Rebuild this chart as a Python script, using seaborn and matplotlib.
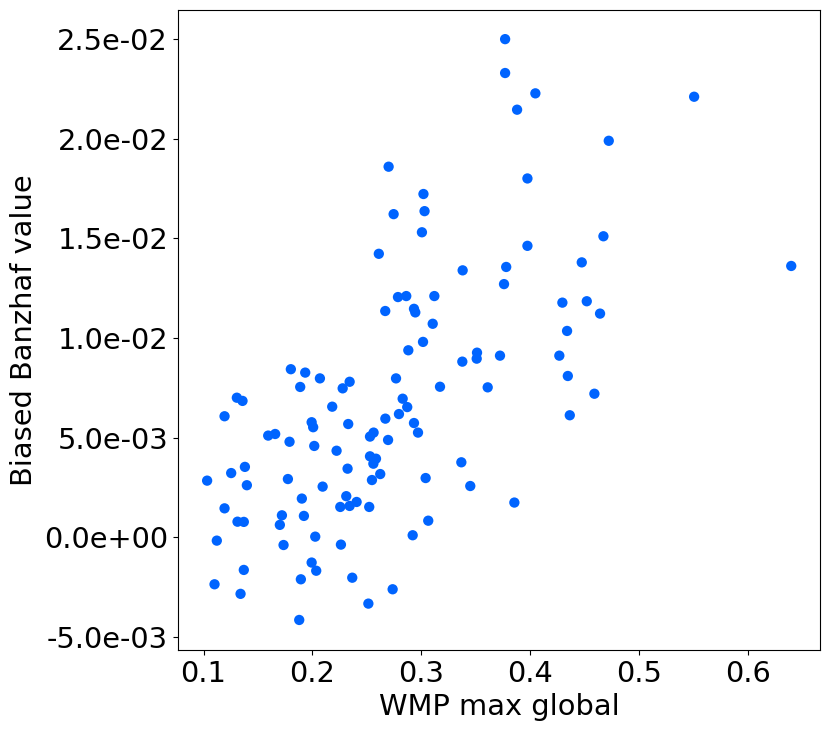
import numpy as np
import pandas as pd
import matplotlib
matplotlib.use("Agg")
import matplotlib.pyplot as plt
import seaborn as sns
from matplotlib.ticker import FormatStrFormatter

# values
wmp_max_global = [
    0.377, 0.377, 0.270, 0.302, 0.2746, 0.303, 0.3006, 0.261, 0.338, 0.378,
    0.376, 0.2786, 0.2862, 0.312, 0.2669, 0.2933, 0.2945, 0.3105, 0.4048, 0.388,
    0.5506, 0.4722, 0.3975, 0.3975, 0.4673, 0.4474, 0.6398, 0.4296, 0.452, 0.4642,
    0.4339, 0.3016, 0.2881, 0.1802, 0.1934, 0.2069, 0.1888, 0.2342, 0.2278, 0.2768,
    0.3377, 0.3512, 0.3509, 0.3723, 0.3172, 0.361, 0.1306, 0.1358, 0.1193, 0.2182,
    0.2829, 0.2871, 0.2795, 0.1993, 0.2007, 0.2329, 0.267, 0.2933, 0.297, 0.1594,
    0.1658, 0.179, 0.2017, 0.2222, 0.2529, 0.2562, 0.2695, 0.2529, 0.2584, 0.256,
    0.2323, 0.2547, 0.2623, 0.138, 0.1254, 0.1033, 0.1398, 0.1775, 0.2094, 0.1903,
    0.2311, 0.2256, 0.2342, 0.2406, 0.2522, 0.1193, 0.1312, 0.137, 0.172, 0.1701,
    0.1922, 0.1122, 0.1735, 0.2026, 0.2262, 0.1993, 0.2035, 0.137, 0.1101, 0.134,
    0.1894, 0.2366, 0.2737, 0.2514, 0.1879, 0.304, 0.3368, 0.345, 0.3064, 0.2921,
    0.4268, 0.4346, 0.459, 0.4364, 0.3855,
]
biased_banzhaf = [
    0.0250, 0.0233, 0.01860, 0.01723, 0.01622, 0.01637, 0.01531, 0.01423, 0.01340, 0.01357,
    0.01271, 0.01206, 0.01211, 0.01211, 0.01136, 0.01147, 0.01129, 0.01072, 0.02228, 0.02146,
    0.02211, 0.01990, 0.01801, 0.01463, 0.01511, 0.01380, 0.01362, 0.01178, 0.01185, 0.01123,
    0.01036, 0.00981, 0.00939, 0.00844, 0.00827, 0.00798, 0.00755, 0.00781, 0.00748, 0.00798,
    0.00882, 0.00927, 0.00897, 0.00912, 0.00756, 0.00753, 0.00701, 0.00685, 0.00608, 0.00656,
    0.00696, 0.00654, 0.00619, 0.00578, 0.00553, 0.00569, 0.00596, 0.00574, 0.00526, 0.00511,
    0.00519, 0.00480, 0.00459, 0.00435, 0.00506, 0.00526, 0.00489, 0.00407, 0.00395, 0.00370,
    0.00345, 0.00288, 0.00318, 0.00354, 0.00323, 0.00285, 0.00262, 0.00293, 0.00255, 0.00195,
    0.00207, 0.00153, 0.00158, 0.00178, 0.00153, 0.00146, 0.00079, 0.00078, 0.00111, 0.00063,
    0.00108, -0.00016, -0.00038, 0.00004, -0.00036, -0.00126, -0.00167, -0.00163, -0.00235, -0.00283,
    -0.00210, -0.00202, -0.00260, -0.00332, -0.00414, 0.00298, 0.00377, 0.00258, 0.00084, 0.00011,
    0.00912, 0.00810, 0.00721, 0.00613, 0.00175,
]

df = pd.DataFrame({"WMP max global": wmp_max_global,
                   "Biased Banzhaf value": biased_banzhaf})

fig, ax = plt.subplots(figsize=(8.31, 7.31), dpi=100)
fig.subplots_adjust(left=0.214, right=0.987, top=0.986, bottom=0.111)

sns.scatterplot(data=df, x="WMP max global", y="Biased Banzhaf value",
                color="#0064ff", s=55, edgecolor="none", ax=ax)

ax.set_xlim(0.0764, 0.6664)
ax.set_ylim(-0.00564, 0.02645)
ax.set_xticks([0.1, 0.2, 0.3, 0.4, 0.5, 0.6])
ax.set_yticks([-0.005, 0.0, 0.005, 0.01, 0.015, 0.02, 0.025])
ax.yaxis.set_major_formatter(FormatStrFormatter("%.1e"))
ax.tick_params(labelsize=20.8)
ax.set_xlabel("WMP max global", fontsize=20.8)
ax.set_ylabel("Biased Banzhaf value", fontsize=20.8)

fig.savefig("out.png", dpi=100)
